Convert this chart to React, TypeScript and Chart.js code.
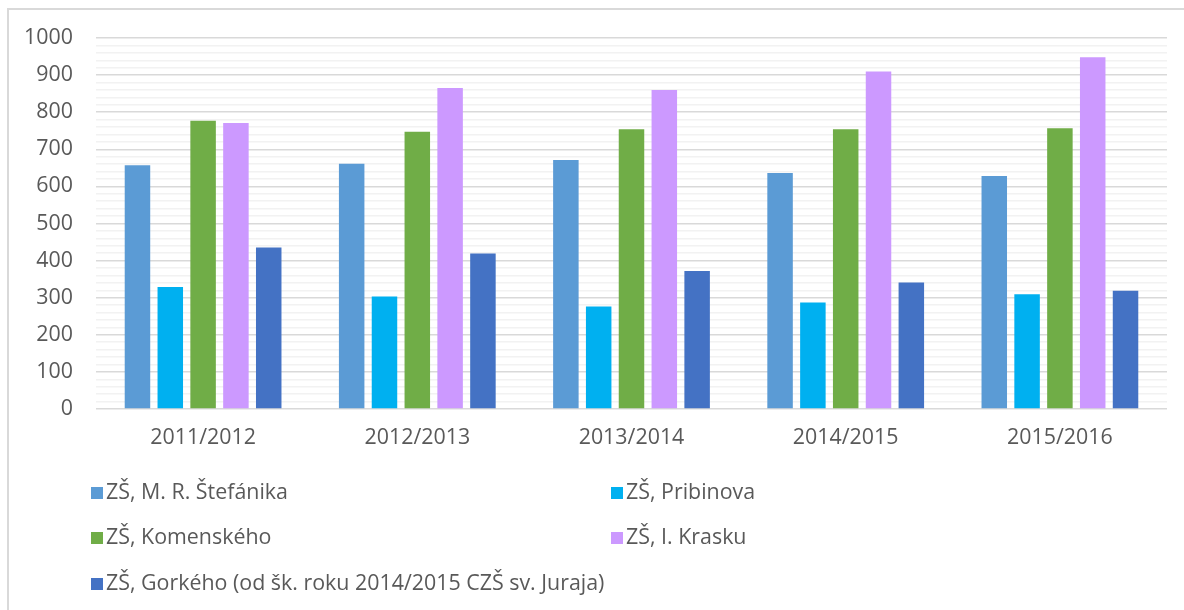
import React, { useEffect, useRef } from "react";
import { Chart, registerables } from "chart.js";

Chart.register(...registerables);

const categories = ["2011/2012", "2012/2013", "2013/2014", "2014/2015", "2015/2016"];
const seriesNames = [
  "ZŠ, M. R. Štefánika",
  "ZŠ, Pribinova",
  "ZŠ, Komenského",
  "ZŠ, I. Krasku",
  "ZŠ, Gorkého (od šk. roku 2014/2015 CZŠ sv. Juraja)",
];
const stefanika = [657, 661, 671, 636, 628];
const pribinova = [329, 303, 276, 287, 309];
const komenskeho = [777, 747, 754, 754, 757];
const krasku = [771, 865, 860, 910, 948];
const gorkeho = [435, 419, 372, 341, 319];
const colors = ["#5B9BD5", "#00B0F0", "#70AD47", "#CC99FF", "#4472C4"];
const FONT = "'Open Sans', 'Noto Sans', sans-serif";
const TEXT = "#595959";

const legendPlugin = {
  id: "customLegend",
  afterDraw(chart: any) {
    const ctx = chart.ctx;
    const colX = [91, 611];
    const rowY = [493, 538, 584];
    ctx.save();
    ctx.font = `21.4px ${FONT}`;
    ctx.textBaseline = "middle";
    ctx.textAlign = "left";
    chart.data.datasets.forEach((ds: any, i: number) => {
      const x = colX[i % 2];
      const y = rowY[Math.floor(i / 2)];
      ctx.fillStyle = ds.backgroundColor;
      ctx.fillRect(x, y - 6, 12, 12);
      ctx.fillStyle = TEXT;
      ctx.fillText(ds.label, x + 15, y);
    });
    ctx.restore();
  },
};

export default function App() {
  const ref = useRef<HTMLCanvasElement>(null);
  useEffect(() => {
    const values = [stefanika, pribinova, komenskeho, krasku, gorkeho];
    const chart = new Chart(ref.current!, {
      type: "bar",
      data: {
        labels: categories,
        datasets: values.map((v, i) => ({
          label: seriesNames[i],
          data: v,
          backgroundColor: colors[i],
          borderWidth: 0,
          categoryPercentage: 0.766,
          barPercentage: 0.777,
        })),
      },
      options: {
        animation: false,
        responsive: false,
        maintainAspectRatio: false,
        layout: { padding: { top: 38, right: 17, left: 0, bottom: 0 } },
        plugins: { legend: { display: false }, tooltip: { enabled: false } },
        scales: {
          x: {
            grid: { display: false, drawTicks: false },
            border: { display: false },
            ticks: { color: TEXT, font: { family: FONT, size: 21.4 }, padding: 16 },
            afterFit: (s: any) => {
              s.height = 201;
            },
          },
          y: {
            min: 0,
            max: 1000,
            afterBuildTicks: (s: any) => {
              const t = [];
              for (let v = 0; v <= 1000; v += 20) t.push({ value: v });
              s.ticks = t;
            },
            grid: {
              drawTicks: false,
              lineWidth: 1.5,
              color: (c: any) => (c.tick && c.tick.value % 100 === 0 ? "#d9d9d9" : "#f2f2f2"),
            },
            border: { display: false },
            ticks: {
              autoSkip: false,
              color: TEXT,
              font: { family: FONT, size: 21.4 },
              padding: 23,
              callback: (v: any) => (Number(v) % 100 === 0 ? String(v) : ""),
            },
            afterFit: (s: any) => {
              s.width = 96;
            },
          },
        },
      },
      plugins: [legendPlugin],
    });
    return () => chart.destroy();
  }, []);
  return (
    <div style={{ position: "fixed", left: 0, top: 0, width: 1184, height: 610, overflow: "hidden", background: "#fff" }}>
      <div
        style={{
          position: "absolute",
          left: 7,
          top: 8,
          width: 1300,
          height: 800,
          borderLeft: "2px solid #d9d9d9",
          borderTop: "2px solid #d9d9d9",
        }}
      />
      <canvas ref={ref} width={1184} height={610} style={{ position: "absolute", left: 0, top: 0 }} />
    </div>
  );
}
